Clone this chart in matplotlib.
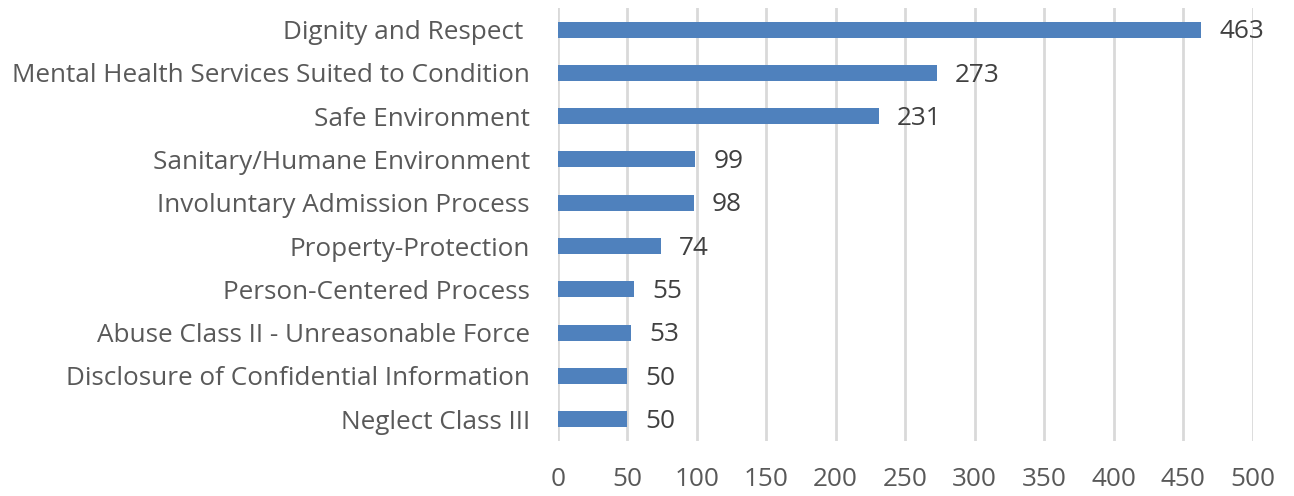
import matplotlib.pyplot as plt
import numpy as np

# data (top to bottom as shown)
categories = ['Dignity and Respect ', 'Mental Health Services Suited to Condition',
              'Safe Environment', 'Sanitary/Humane Environment',
              'Involuntary Admission Process', 'Property-Protection',
              'Person-Centered Process', 'Abuse Class II - Unreasonable Force',
              'Disclosure of Confidential Information', 'Neglect Class III']
values = [463, 273, 231, 99, 98, 74, 55, 53, 50, 50]
xticks = [0, 50, 100, 150, 200, 250, 300, 350, 400, 450, 500]

plt.rcParams['font.family'] = ['Open Sans', 'DejaVu Sans']
txt = '#595959'

fig = plt.figure(figsize=(12.94, 4.96), dpi=100)
ax = fig.add_axes([0.431, 0.111, 0.537, 0.873])

y = np.arange(len(categories))
ax.barh(y, values, height=0.37, color='#4F81BD', zorder=3)
for yi, v in zip(y, values):
    ax.text(v + 13, yi + 0.05, str(v), va='center', ha='left', fontsize=18.8, color='#404040')

ax.set_ylim(len(categories) - 0.5, -0.5)
ax.set_xlim(0, 500)
ax.set_xticks(xticks)
ax.set_yticks(y)
ax.set_yticklabels(categories, fontsize=18.8, color=txt)
ax.tick_params(axis='x', labelsize=18.8, labelcolor=txt, length=0, pad=19)
ax.tick_params(axis='y', length=0, pad=20)
ax.grid(axis='x', color='#D9D9D9', linewidth=2, zorder=0)
for s in ax.spines.values():
    s.set_visible(False)

plt.savefig('out.png', dpi=100)
